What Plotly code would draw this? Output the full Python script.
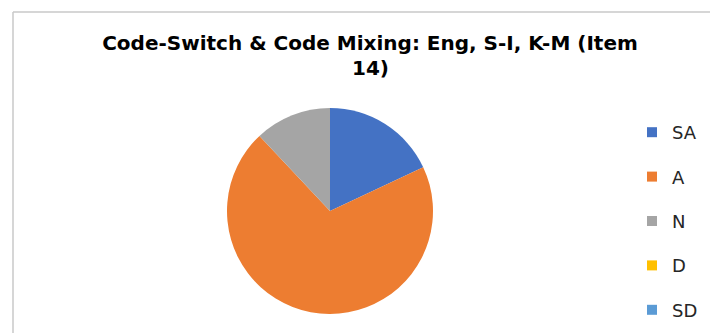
import plotly.graph_objects as go

# Survey responses for Item 14 (percent of respondents)
categories = ["SA", "A", "N", "D", "SD"]
shares = [18, 70, 12, 0, 0]
colors = ["#4472C4", "#ED7D31", "#A5A5A5", "#FFC000", "#5B9BD5"]
title_line1 = "Code-Switch & Code Mixing: Eng, S-I, K-M (Item"
title_line2 = "14)"

W, H = 710, 333
TITLE_FONT = dict(family="DejaVu Sans", size=20, color="#000000", weight="bold")

fig = go.Figure()

fig.add_trace(go.Pie(
    labels=categories,
    values=shares,
    marker=dict(colors=colors, line=dict(width=0)),
    sort=False,
    direction="clockwise",
    rotation=0,
    textinfo="none",
    hoverinfo="label+percent",
    showlegend=False,
    domain=dict(x=[227 / W, 433 / W], y=[19 / H, 225 / H]),
))

# Legend entries, one group per category so they can be spaced apart
for cat, col in zip(categories, colors):
    fig.add_trace(go.Scatter(
        x=[None], y=[None], mode="markers", name=cat,
        legendgroup=cat,
        marker=dict(symbol="square", size=10, color=col),
    ))

fig.update_layout(
    width=W, height=H,
    margin=dict(l=0, r=0, t=0, b=0, autoexpand=False),
    paper_bgcolor="white",
    plot_bgcolor="white",
    xaxis=dict(visible=False),
    yaxis=dict(visible=False),
    title=dict(
        text=title_line1,
        x=370 / W, xanchor="center",
        y=1 - 36 / H, yanchor="top",
        font=TITLE_FONT,
    ),
    annotations=[
        dict(text=title_line2, xref="paper", yref="paper",
             x=370 / W, xanchor="center",
             y=1 - 68 / H, yanchor="middle",
             showarrow=False, font=TITLE_FONT),
    ],
    legend=dict(
        x=(652 - 20) / W, xanchor="left",
        y=1 - 114 / H, yanchor="top",
        font=dict(family="DejaVu Sans", size=18, color="#262626"),
        tracegroupgap=18,
        bgcolor="rgba(0,0,0,0)",
    ),
    shapes=[
        dict(type="line", xref="paper", yref="paper",
             x0=13 / W, y0=0, x1=13 / W, y1=1 - 12 / H,
             line=dict(color="#C8C8C8", width=1.5)),
        dict(type="line", xref="paper", yref="paper",
             x0=13 / W, y0=1 - 12 / H, x1=1, y1=1 - 12 / H,
             line=dict(color="#C8C8C8", width=1.5)),
    ],
)

fig.write_html("out.html")
